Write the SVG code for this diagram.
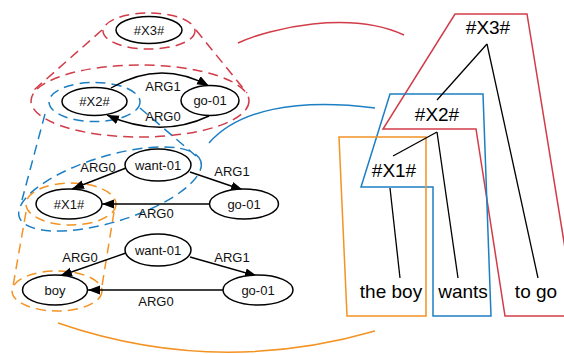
<svg xmlns="http://www.w3.org/2000/svg" width="564" height="354" viewBox="0 0 564 354">
<defs>
<marker id="ah" viewBox="0 0 12 10" refX="12" refY="5" markerWidth="12" markerHeight="10" markerUnits="userSpaceOnUse" orient="auto">
<path d="M0,0.5 L12,5 L0,9.5 Z" fill="#000"/>
</marker>
</defs>
<style>
.node ellipse{fill:#fff;stroke:#000;stroke-width:1.5}
.t{font-family:"Liberation Sans",Arial,sans-serif;font-size:13px;text-anchor:middle;fill:#111}
.big{font-family:"Liberation Sans",Arial,sans-serif;font-size:19px;text-anchor:middle;fill:#000}
.e{fill:none;stroke:#000;stroke-width:1.4;marker-end:url(#ah)}
.dr{fill:none;stroke:#d23c48;stroke-width:1.5;stroke-dasharray:10,6}
.db{fill:none;stroke:#1c7fc4;stroke-width:1.5;stroke-dasharray:10,6}
.do{fill:none;stroke:#f39324;stroke-width:1.5;stroke-dasharray:10,6}
.sr{fill:none;stroke:#d23c48;stroke-width:1.5}
.sb{fill:none;stroke:#1c7fc4;stroke-width:1.5}
.so{fill:none;stroke:#f39324;stroke-width:1.5}
.tl{fill:none;stroke:#000;stroke-width:1.3}
</style>
<rect width="564" height="354" fill="#fff"/>

<g id="groupings">
<ellipse class="dr" cx="149" cy="31" rx="46" ry="18"/>
<ellipse class="dr" cx="140" cy="101" rx="109" ry="36"/>
<line class="dr" x1="102" y1="30" x2="34" y2="90"/>
<line class="dr" x1="196" y1="30" x2="247" y2="93"/>
<ellipse class="db" cx="94.5" cy="102" rx="45.5" ry="19.5"/>
<ellipse class="db" cx="110" cy="189" rx="95" ry="33" transform="rotate(-17 110 189)"/>
<line class="db" x1="45" y1="114" x2="22" y2="200"/>
<line class="db" x1="140" y1="108" x2="196" y2="156"/>
<ellipse class="do" cx="71" cy="204" rx="45" ry="21"/>
<ellipse class="do" cx="57" cy="291" rx="45" ry="20"/>
<line class="do" x1="26" y1="212" x2="13" y2="286"/>
<line class="do" x1="114" y1="212" x2="102" y2="286"/>
</g>

<g id="connectors">
<path class="e" d="M111,88 Q160,59 209,86"/>
<path class="e" d="M209,116 Q160,139 107,115"/>
<path class="e" d="M126,168 L72,189"/>
<path class="e" d="M190,172 L243,190"/>
<path class="e" d="M209,204 L102,204"/>
<path class="e" d="M126,253 L60,276"/>
<path class="e" d="M190,257 L257,276"/>
<path class="e" d="M223,290 L88,290"/>
<path class="so" d="M58,323 Q215,377 375,331"/>
<path class="sr" d="M238,43 C270,28 350,10 404,35"/>
<path class="sb" d="M209,143 C238,110 295,98 375,108"/>
</g>

<g id="labels">
<text class="t" x="163" y="91">ARG1</text>
<text class="t" x="163" y="121">ARG0</text>
<text class="t" x="98" y="172">ARG0</text>
<text class="t" x="232" y="176">ARG1</text>
<text class="t" x="156" y="218">ARG0</text>
<text class="t" x="80" y="262">ARG0</text>
<text class="t" x="232" y="262">ARG1</text>
<text class="t" x="156" y="306">ARG0</text>
</g>

<g id="n-x3" class="node"><ellipse cx="149" cy="30" rx="33" ry="13.5"/><text class="t" x="149" y="34.5">#X3#</text></g>
<g id="n-x2" class="node"><ellipse cx="94.5" cy="101.5" rx="32.5" ry="14"/><text class="t" x="94.5" y="106">#X2#</text></g>
<g id="n-go1" class="node"><ellipse cx="210" cy="100.5" rx="29" ry="15"/><text class="t" x="210" y="105">go-01</text></g>
<g id="n-want1" class="node"><ellipse cx="158" cy="165" rx="33" ry="16"/><text class="t" x="158" y="169.5">want-01</text></g>
<g id="n-x1" class="node"><ellipse cx="69" cy="204" rx="33" ry="15"/><text class="t" x="69" y="208.5">#X1#</text></g>
<g id="n-go2" class="node"><ellipse cx="244" cy="204" rx="34.5" ry="15"/><text class="t" x="244" y="208.5">go-01</text></g>
<g id="n-want2" class="node"><ellipse cx="158" cy="250" rx="33" ry="16"/><text class="t" x="158" y="254.5">want-01</text></g>
<g id="n-boy" class="node"><ellipse cx="55" cy="290" rx="32.5" ry="15"/><text class="t" x="55" y="294.5">boy</text></g>
<g id="n-go3" class="node"><ellipse cx="258" cy="290" rx="35" ry="15"/><text class="t" x="258" y="294.5">go-01</text></g>

<g id="tree">
<polygon class="sr" points="455,14 527,14 576,316 505,316 476,129 383,129"/>
<polygon class="sb" points="390,94 483,94 491,316 433,316 433,187 361,187"/>
<polygon class="so" points="339,137 426,137 426,316 347,316"/>
<line class="tl" x1="487" y1="44" x2="437" y2="100"/>
<line class="tl" x1="487" y1="44" x2="538" y2="278"/>
<line class="tl" x1="437" y1="132" x2="393" y2="156"/>
<line class="tl" x1="437" y1="132" x2="458" y2="278"/>
<line class="tl" x1="390" y1="188" x2="400" y2="278"/>
<text class="big" x="488" y="34">#X3#</text>
<text class="big" x="437" y="121">#X2#</text>
<text class="big" x="394" y="177">#X1#</text>
<text class="big" x="391" y="298">the boy</text>
<text class="big" x="463" y="298">wants</text>
<text class="big" x="536" y="298">to go</text>
</g>
</svg>
